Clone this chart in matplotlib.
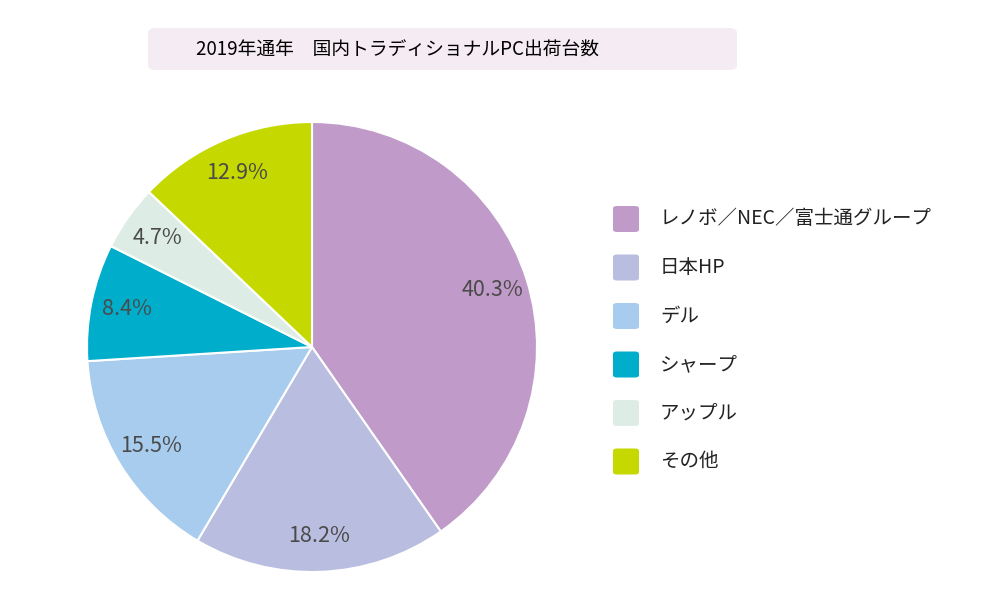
import matplotlib
matplotlib.use("Agg")
import matplotlib.pyplot as plt
from matplotlib.patches import FancyBboxPatch

plt.rcParams['font.family'] = ['Noto Sans CJK JP', 'DejaVu Sans']

title = "2019年通年　国内トラディショナルPC出荷台数"
makers = ["レノボ／NEC／富士通グループ", "日本HP", "デル", "シャープ", "アップル", "その他"]
shares = [40.3, 18.2, 15.5, 8.4, 4.7, 12.9]
colors = ["#c09ac8", "#b9bddf", "#a8ccee", "#00aecb", "#ddede5", "#c5d800"]

W, H = 1000, 604
fig = plt.figure(figsize=(W / 100, H / 100), dpi=100)

# titre dans un cadre rose
fig.patches.append(FancyBboxPatch((148 / W, 1 - 70 / H), 589 / W, 42 / H,
                                  boxstyle="round,pad=0,rounding_size=0.008",
                                  transform=fig.transFigure, fc="#f5ebf3", ec="none"))
fig.text(397 / W, 1 - 50 / H, title, ha="center", va="center",
         fontsize=13.5, color="#000000")

# camembert
cx, cy, r = 312, 347, 225
ax = fig.add_axes([(cx - r) / W, (H - cy - r) / H, 2 * r / W, 2 * r / H])
wedges, texts, autotexts = ax.pie(
    shares, colors=colors, startangle=90, counterclock=False,
    autopct="%.1f%%", pctdistance=0.84,
    wedgeprops=dict(edgecolor="white", linewidth=1.5),
    textprops=dict(fontsize=15.5, color="#4a4a4a"))
ax.set_xlim(-1.0, 1.0)
ax.set_ylim(-1.0, 1.0)

# légende à la main
y0, dy = 219, 48.5
for i, (m, c) in enumerate(zip(makers, colors)):
    y = y0 + i * dy
    fig.patches.append(FancyBboxPatch((613 / W, 1 - (y + 13) / H), 26 / W, 26 / H,
                                      boxstyle="round,pad=0,rounding_size=0.004",
                                      transform=fig.transFigure, fc=c, ec="none"))
    fig.text(660 / W, 1 - y / H, m, ha="left", va="center",
             fontsize=14, color="#222222")

fig.savefig("out.png", dpi=100)
